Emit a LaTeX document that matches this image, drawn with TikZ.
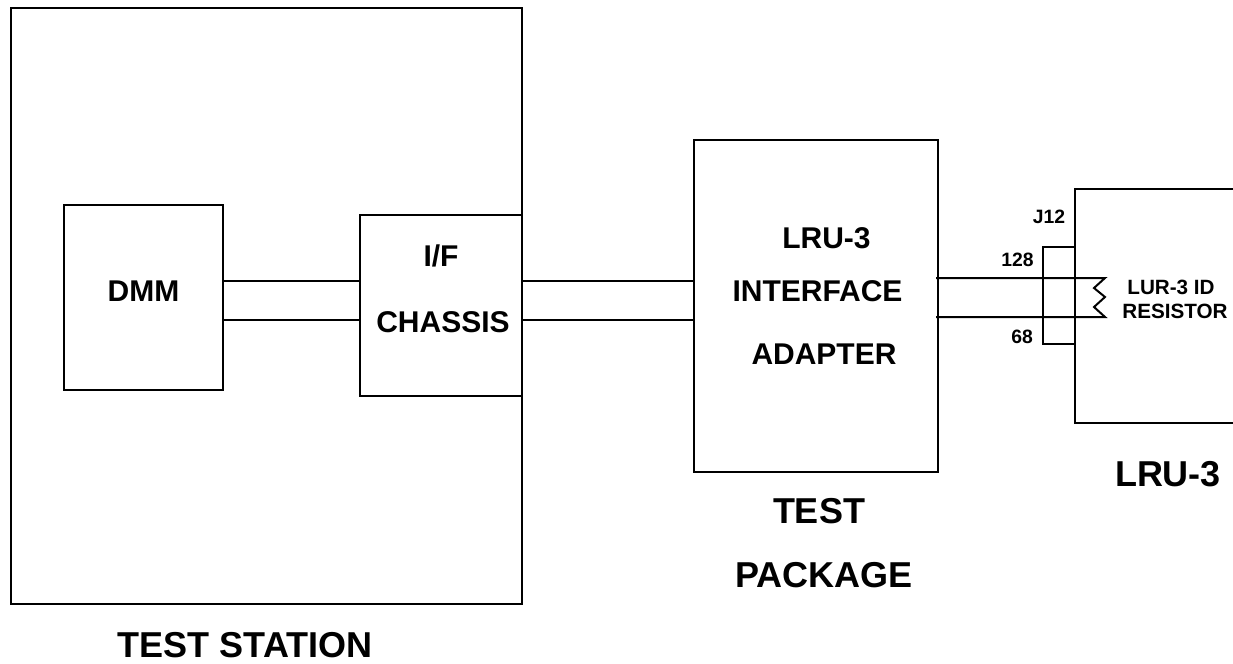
\documentclass[tikz,border=0pt]{standalone}
\usepackage{fontspec}
\setmainfont{Liberation Sans}
\tikzset{
    blockbox/.style={draw,line width=1.7pt,inner sep=0pt,outer sep=0pt},
    wire/.style={line width=1.5pt},
    bigtext/.style={font=\bfseries\fontsize{22.5}{24}\selectfont,inner sep=0pt},
    captext/.style={font=\bfseries\fontsize{27}{29}\selectfont,inner sep=0pt},
    pintext/.style={font=\bfseries\fontsize{14.5}{16}\selectfont,inner sep=0pt},
    restext/.style={font=\bfseries\fontsize{15.5}{17}\selectfont,inner sep=0pt},
}
\begin{document}
\begin{tikzpicture}[x=0.75pt,y=-0.75pt]
\useasboundingbox (0,0) rectangle (1233,664);
% boxes
\node[blockbox,minimum width=383.25pt,minimum height=447pt] (station) at (266.5,306) {};
\node[blockbox,minimum width=119.25pt,minimum height=138.75pt] (dmm) at (143.5,297.5) {};
\node[blockbox,minimum width=121.5pt,minimum height=135.75pt] (chassis) at (441,305.5) {};
\node[blockbox,minimum width=183pt,minimum height=249pt] (adapter) at (816,306) {};
\node[blockbox,minimum width=150pt,minimum height=175.5pt] (lru) at (1175,306) {};

% box text
\node[bigtext] (dmmtext) at (143.5,291) {DMM};
\node[bigtext] (iftext) at (441,255.5) {I/F};
\node[bigtext] (chassistext) at (443,322) {CHASSIS};
\node[bigtext] (lrutext) at (826.5,238) {LRU-3};
\node[bigtext] (interfacetext) at (817.5,291.5) {INTERFACE};
\node[bigtext] (adaptertext) at (824,354.5) {ADAPTER};

% captions
\node[captext] (stationcap) at (245,645) {TEST STATION};
\node[captext] (testcap) at (819,511) {TEST};
\node[captext] (packagecap) at (824,575.5) {PACKAGE};
\node[captext] (lrucap) at (1168,474) {LRU-3};

% connector at J12
\coordinate (jtop) at (1043,247);
\coordinate (jbot) at (1043,344);
\draw[wire] (lru.west |- jtop) -- (jtop) -- (jbot) -- (lru.west |- jbot);
\node[pintext] (j12) at (1049,216.5) {J12};
\node[pintext] (pin128) at (1017.5,259.5) {128};
\node[pintext] (pin68) at (1022,336.5) {68};

% wires
\draw[wire] (dmm.east |- 0,281) -- (chassis.west |- 0,281);
\draw[wire] (dmm.east |- 0,319.5) -- (chassis.west |- 0,319.5);
\draw[wire] (chassis.east |- 0,281) -- (adapter.west |- 0,281);
\draw[wire] (chassis.east |- 0,319.5) -- (adapter.west |- 0,319.5);

% resistor
\coordinate (res1) at (1105,278);
\coordinate (res2) at (1105,317);
\coordinate (lead1) at (936,278);
\coordinate (lead2) at (936,317);
\draw[wire] (lead1) -- (res1) -- (1094,288) -- (1105,297) -- (1094,307) -- (res2) -- (lead2);
\node[restext] (restop) at (1171,287) {LUR-3 ID};
\node[restext] (resbot) at (1175,311.5) {RESISTOR};
\end{tikzpicture}
\end{document}
